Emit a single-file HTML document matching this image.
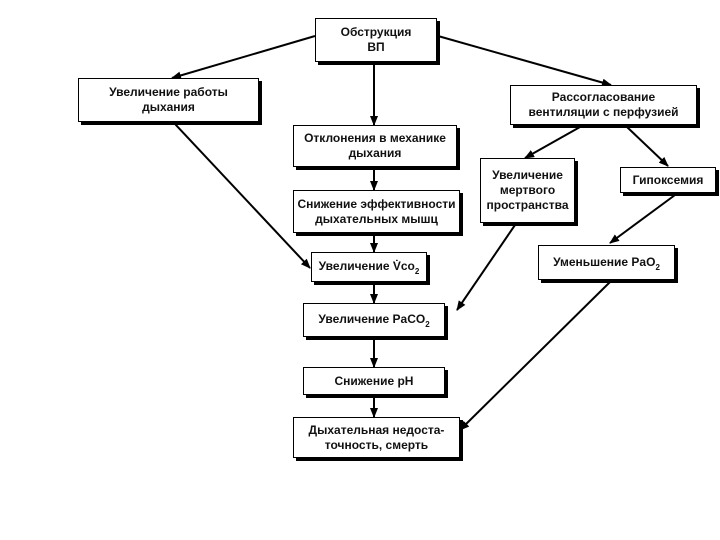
<!DOCTYPE html><html><head><meta charset="utf-8"><style>
body{margin:0;width:720px;height:540px;background:#fff;position:relative;overflow:hidden;font-family:"Liberation Sans",sans-serif}
.b{position:absolute;border:1.5px solid #000;box-shadow:3px 3px 0 #000;background:#fff;display:flex;align-items:center;justify-content:center;text-align:center;font-size:12px;font-weight:bold;line-height:15px;box-sizing:border-box;color:#111}
svg{position:absolute;left:0;top:0}
.s{font-size:8px;position:relative;top:4px}
</style></head><body>
<svg width="720" height="540"><defs><marker id="a" markerWidth="10" markerHeight="8" refX="9" refY="4" orient="auto" markerUnits="userSpaceOnUse"><path d="M0,0L10,4L0,8z"/></marker></defs>
<g stroke="#000" stroke-width="2" fill="none" marker-end="url(#a)">
<line x1="315" y1="36" x2="172" y2="78"/>
<line x1="438" y1="36" x2="611" y2="85"/>
<line x1="374" y1="64" x2="374" y2="125"/>
<line x1="374" y1="170" x2="374" y2="190"/>
<line x1="374" y1="236" x2="374" y2="252"/>
<line x1="374" y1="285" x2="374" y2="303"/>
<line x1="374" y1="340" x2="374" y2="367"/>
<line x1="374" y1="398" x2="374" y2="417"/>
<line x1="175" y1="124" x2="310" y2="268"/>
<line x1="580" y1="127" x2="525" y2="158"/>
<line x1="627" y1="127" x2="668" y2="166"/>
<line x1="515" y1="225" x2="457" y2="310"/>
<line x1="675" y1="195" x2="610" y2="243"/>
<line x1="610" y1="282" x2="460" y2="430"/>
</g></svg>
<div class="b" style="left:315px;top:18px;width:122px;height:44px">Обструкция<br>ВП</div>
<div class="b" style="left:78px;top:78px;width:181px;height:44px">Увеличение работы<br>дыхания</div>
<div class="b" style="left:293px;top:125px;width:164px;height:42px">Отклонения в механике<br>дыхания</div>
<div class="b" style="left:293px;top:190px;width:167px;height:43px">Снижение эффективности<br>дыхательных мышц</div>
<div class="b" style="left:311px;top:252px;width:116px;height:30px"><span>Увеличение V̇co<span class="s">2</span></span></div>
<div class="b" style="left:303px;top:303px;width:142px;height:34px"><span>Увеличение PaCO<span class="s">2</span></span></div>
<div class="b" style="left:303px;top:367px;width:142px;height:28px">Снижение pH</div>
<div class="b" style="left:293px;top:417px;width:167px;height:41px">Дыхательная недоста-<br>точность, смерть</div>
<div class="b" style="left:510px;top:85px;width:187px;height:40px">Рассогласование<br>вентиляции с перфузией</div>
<div class="b" style="left:480px;top:158px;width:95px;height:65px">Увеличение<br>мертвого<br>пространства</div>
<div class="b" style="left:620px;top:167px;width:96px;height:26px">Гипоксемия</div>
<div class="b" style="left:538px;top:245px;width:137px;height:35px"><span>Уменьшение PaO<span class="s">2</span></span></div>
</body></html>
